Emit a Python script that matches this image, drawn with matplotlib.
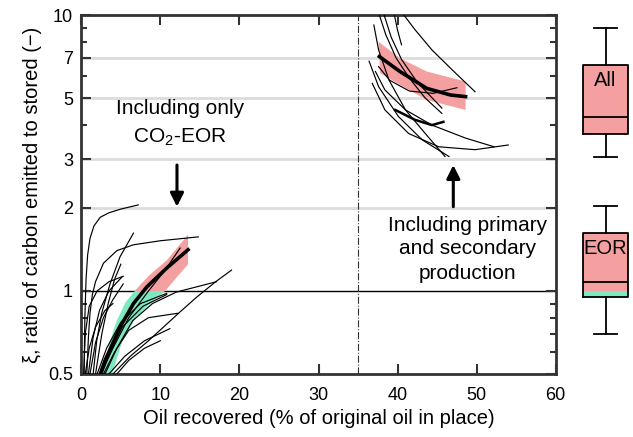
import matplotlib
matplotlib.use('Agg')
import matplotlib.pyplot as plt
import matplotlib.patches as mpatches
from matplotlib.ticker import FixedLocator, NullFormatter

plt.rcParams['font.family'] = ['Liberation Sans', 'DejaVu Sans']
plt.rcParams['mathtext.default'] = 'regular'

PINK = '#F4A0A0'
MINT = '#7CE9C0'
GRID = '#DCDCDC'
SPINE = '#333333'

# --- CO2-EOR only: thin trajectories (oil recovered %, xi) ---
eor_curves = [
    [(0.35, 0.5), (0.45, 0.8), (0.6, 1.1), (0.8, 1.35), (1.1, 1.55), (1.6, 1.72), (2.4, 1.85),
     (3.5, 1.92), (5.0, 1.98), (7.2, 2.05)],
    [(0.7, 0.5), (0.9, 0.68), (1.1, 0.83), (1.4, 0.97), (1.8, 1.08), (2.8, 1.26), (4.5, 1.4),
     (6.6, 1.47), (10.0, 1.52), (14.8, 1.57)],
    [(1.5, 0.5), (1.95, 0.66), (2.58, 0.83), (3.63, 1.06), (4.9, 1.33), (6.6, 1.62)],
    [(0.9, 0.5), (1.5, 0.68), (2.3, 0.85), (3.5, 1.0), (5.1, 1.12)],
    [(1.1, 0.5), (1.8, 0.65), (2.8, 0.8), (4.0, 0.93), (5.3, 1.06)],
    [(0.5, 0.5), (1.0, 0.62), (1.8, 0.74), (3.0, 0.85), (4.0, 0.9)],
    [(0.3, 0.5), (0.5, 0.7), (1.0, 0.88), (2.0, 1.0), (3.5, 1.08), (5.3, 1.13)],
    [(2.0, 0.5), (3.2, 0.62), (5.0, 0.77), (7.5, 0.9), (10.8, 0.98)],
    [(2.6, 0.5), (3.6, 0.6), (5.2, 0.74), (7.8, 0.88), (10.8, 0.97)],
    [(3.0, 0.5), (4.5, 0.62), (6.5, 0.78), (9.0, 0.9), (12.0, 0.99), (17.1, 1.08)],
    [(4.0, 0.5), (6.2, 0.58), (8.5, 0.66), (10.4, 0.74), (12.5, 0.84), (14.6, 0.95),
     (17.0, 1.08), (19.0, 1.19)],
    [(3.5, 0.5), (5.5, 0.58), (8.0, 0.66), (11.2, 0.73)],
    [(2.5, 0.5), (4.0, 0.62), (6.0, 0.8), (8.5, 1.0), (10.5, 1.18), (12.5, 1.43)],
    [(2.8, 0.5), (4.2, 0.6), (6.0, 0.72), (8.5, 0.8), (12.2, 0.83)],
    [(1.8, 0.5), (2.6, 0.7), (3.4, 0.9), (4.2, 1.1), (5.0, 1.25)],
    [(4.5, 0.5), (6.0, 0.56), (8.0, 0.62), (10.0, 0.66)],
]
eor_mid_x = [2.4, 3.0, 3.6, 4.9, 6.6, 8.3, 10.8, 13.5]
eor_mid_y = [0.5, 0.56, 0.61, 0.74, 0.90, 1.035, 1.21, 1.41]
eor_band_top = [(2.6, 0.5), (3.0, 0.55), (3.6, 0.65), (4.4, 0.77), (5.6, 0.91), (6.9, 1.01),
                (8.6, 1.14), (10.8, 1.29), (13.5, 1.6)]
eor_band_bot = [(3.9, 0.5), (5.2, 0.66), (6.9, 0.80), (8.9, 0.91), (10.6, 1.0), (13.5, 1.25)]

# --- primary + secondary + EOR trajectories ---
all_curves = [
    [(37.7, 10.0), (38.5, 8.5), (39.8, 7.0), (41.5, 5.9), (43.5, 5.0), (45.6, 4.4)],
    [(38.3, 10.0), (39.2, 8.3), (40.5, 6.9), (42.5, 5.7), (45.6, 4.6)],
    [(39.6, 10.0), (40.0, 8.8), (40.5, 7.8)],
    [(40.8, 10.0), (42.2, 8.85), (44.35, 7.47), (46.9, 6.33), (49.8, 5.27)],
    [(37.0, 9.2), (37.6, 7.47), (38.9, 5.82), (41.0, 4.53), (43.5, 3.72), (46.0, 3.07)],
    [(36.4, 6.8), (37.6, 5.5), (40.1, 4.29), (43.1, 3.53), (46.5, 3.07)],
    [(37.2, 6.24), (38.4, 5.35), (41.0, 4.53), (44.35, 3.99), (48.6, 3.58), (52.2, 3.33)],
    [(36.8, 5.65), (38.4, 4.53), (41.4, 3.72), (45.2, 3.33), (49.8, 3.25), (54.0, 3.38)],
    [(37.6, 6.5), (39.0, 5.8), (41.5, 5.3), (44.5, 5.2), (47.5, 5.45)],
]
all_thick_short = [(39.7, 4.53), (42.2, 4.17), (44.35, 3.99), (45.8, 4.1)]
all_mid_x = [37.7, 40.3, 43.7, 46.7, 48.6]
all_mid_y = [7.07, 6.24, 5.42, 5.13, 5.06]
all_band_top = [(37.6, 8.0), (40.3, 6.97), (43.7, 6.24), (48.6, 5.74)]
all_band_bot = [(37.8, 6.15), (40.3, 5.59), (43.7, 4.92), (48.6, 4.53)]

# --- box plot summaries ---
box_names = ['All', 'EOR']
box_whislo = [3.06, 0.70]
box_q1 = [3.70, 0.95]
box_med = [4.27, 1.08]
box_q3 = [6.59, 1.62]
box_whishi = [8.97, 2.03]
eor_below_one = (0.95, 1.0)

y_major = [0.5, 1, 2, 3, 5, 7, 10]
y_labels = ['0.5', '1', '2', '3', '5', '7', '10']
y_minor = [0.6, 0.7, 0.8, 0.9, 4, 6, 8, 9]
grid_levels = [2, 3, 5, 7, 10]

fig = plt.figure(figsize=(6.33, 4.37), dpi=100)
ax = fig.add_axes([81.3 / 633, 63 / 437, 474.4 / 633, 359 / 437])
axb = fig.add_axes([578 / 633, 63 / 437, 55 / 633, 359 / 437])

for g in grid_levels:
    ax.axhline(g, color=GRID, lw=2, zorder=0)
ax.axhline(1, color='black', lw=1, zorder=1)
ax.axvline(35, color='#333333', lw=0.8, ls='-.', zorder=1)


def band(top, bot):
    xs = [p[0] for p in top] + [p[0] for p in bot[::-1]]
    ys = [p[1] for p in top] + [p[1] for p in bot[::-1]]
    return xs, ys


# left band, pink above 1, mint below
bx, by = band(eor_band_top, eor_band_bot)
for col, y0, y1 in [(PINK, 1, 10), (MINT, 0.5, 1)]:
    poly = ax.fill(bx, by, color=col, lw=0, zorder=2)[0]
    clip = mpatches.Rectangle((0, y0), 60, y1 - y0, transform=ax.transData)
    poly.set_clip_path(clip)

bx, by = band(all_band_top, all_band_bot)
ax.fill(bx, by, color=PINK, lw=0, zorder=2)

for c in eor_curves + all_curves:
    ax.plot([p[0] for p in c], [p[1] for p in c], color='black', lw=0.85, zorder=3)
ax.plot([p[0] for p in all_thick_short], [p[1] for p in all_thick_short], color='black', lw=1.8, zorder=3)
ax.plot(eor_mid_x, eor_mid_y, color='black', lw=2.6, zorder=4)
ax.plot(all_mid_x, all_mid_y, color='black', lw=2.6, zorder=4)

ax.set_yscale('log')
ax.set_xlim(0, 60)
ax.set_ylim(0.5, 10)
ax.set_xticks(range(0, 61, 10))
ax.yaxis.set_major_locator(FixedLocator(y_major))
ax.set_yticklabels(y_labels)
ax.yaxis.set_minor_locator(FixedLocator(y_minor))
ax.yaxis.set_minor_formatter(NullFormatter())
ax.tick_params(which='both', direction='in', top=True, right=True, width=1.5,
               color=SPINE, labelsize=13)
ax.tick_params(which='major', length=7)
ax.tick_params(which='minor', length=4.5)
ax.tick_params(axis='x', pad=9)
ax.tick_params(axis='y', pad=6)
for s in ax.spines.values():
    s.set_linewidth(2)
    s.set_color(SPINE)

ax.set_xlabel('Oil recovered (% of original oil in place)', fontsize=14.5, labelpad=4)
ax.set_ylabel('\u03be, ratio of carbon emitted to stored (\u2212)', fontsize=14.5, labelpad=4)

# annotations
ax.text(12.5, 4.6, 'Including only', ha='center', va='center', fontsize=15)
ax.text(12.5, 3.6, 'CO$_2$-EOR', ha='center', va='center', fontsize=15)
ax.annotate('', xy=(12.1, 2.02), xytext=(12.1, 2.86),
            arrowprops=dict(arrowstyle='-|>', color='black', lw=2.2, mutation_scale=20,
                            shrinkA=0, shrinkB=0))
ax.annotate('', xy=(47.05, 2.86), xytext=(47.05, 2.02),
            arrowprops=dict(arrowstyle='-|>', color='black', lw=2.2, mutation_scale=20,
                            shrinkA=0, shrinkB=0))
for txt, yy in [('Including primary', 1.73), ('and secondary', 1.42), ('production', 1.16)]:
    ax.text(48.8, yy, txt, ha='center', va='center', fontsize=15)

# box plots
pos = 0.5
w = 0.82
stats = []
for i, name in enumerate(box_names):
    stats.append(dict(med=box_med[i], q1=box_q1[i], q3=box_q3[i],
                      whislo=box_whislo[i], whishi=box_whishi[i], fliers=[]))
    axb.fill_between([pos - w / 2, pos + w / 2], box_q1[i], box_q3[i], color=PINK, lw=0, zorder=1)
axb.fill_between([pos - w / 2, pos + w / 2], eor_below_one[0], eor_below_one[1], color=MINT, lw=0, zorder=1.5)
lp = dict(color='black', lw=1.3)
axb.bxp(stats, positions=[pos, pos], widths=w, capwidths=0.42, showfliers=False,
        boxprops=lp, whiskerprops=lp, capprops=lp, medianprops=lp, zorder=3)
axb.text(pos, 5.8, 'All', ha='center', va='center', fontsize=14.5, zorder=4)
axb.text(pos, 1.43, 'EOR', ha='center', va='center', fontsize=14.5, zorder=4)
axb.set_yscale('log')
axb.set_ylim(0.5, 10)
axb.set_xlim(0, 1)
axb.axis('off')

fig.savefig('out.png', dpi=100, facecolor='white')
